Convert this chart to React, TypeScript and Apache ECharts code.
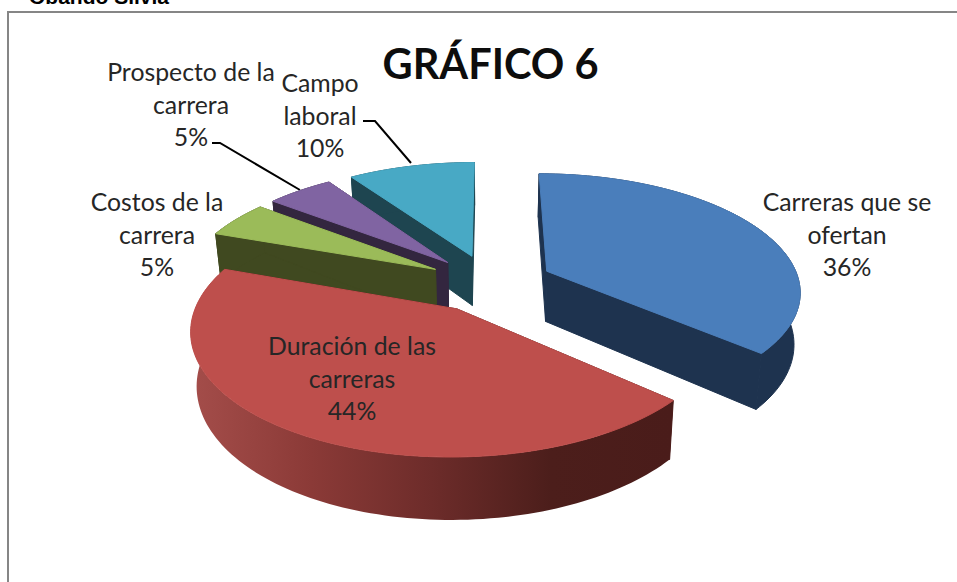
import React, { useEffect, useRef } from "react";
import * as echarts from "echarts";

const categories = ["Carreras que se ofertan", "Duración de las carreras", "Costos de la carrera", "Prospecto de la carrera", "Campo laboral"];
const values = [36.45, 44, 5, 5, 9.55];
const topColors = ["#4a7ebb", "#be4f4c", "#9bbb59", "#8064a2", "#48a9c5"];
const sideColors = ["#1e334f", "#4c1d1b", "#404920", "#33263f", "#1e4550"];
const labelLines = [
  ["Carreras que se", "ofertan"],
  ["Duración de las", "carreras"],
  ["Costos de la", "carrera"],
  ["Prospecto de la", "carrera"],
  ["Campo", "laboral"],
];
const titleText = "GRÁFICO 6";
const headerText = "Obando Silvia";

const CX = 490, CY = 283, F = 253, Q = 116, P = 0.156, EXPLODE = 0.25, DEPTH = 51, SHRINK = 0.98;
const drawRank = [4, 5, 3, 2, 1];
const labelCenter = [[847, 234], [352, 378], [157, 234], [191, 104], [320, 115]];
const leaders = [null, null, null, [[212, 143], [220, 143], [300, 190]], [[363, 121], [375, 121], [411, 163]]];

function project(X: number, Y: number, low: boolean) {
  const s = 1 / (1 - P * Y);
  const x = F * X * s * (low ? SHRINK : 1);
  const y = Q * Y * s + (low ? DEPTH * s : 0);
  return [CX + x, CY + y];
}

function renderItem(params: any, api: any) {
  const i = params.dataIndex;
  const total = values.reduce((a, b) => a + b, 0);
  const before = values.slice(0, i).reduce((a, b) => a + b, 0);
  const a0 = (before / total) * 2 * Math.PI;
  const a1 = ((before + api.value(0)) / total) * 2 * Math.PI;
  const mid = (a0 + a1) / 2;
  const ox = EXPLODE * Math.sin(mid), oy = -EXPLODE * Math.cos(mid);
  const n = Math.max(8, Math.round((a1 - a0) * 40));
  const arcTop: number[][] = [], arcLow: number[][] = [];
  for (let k = 0; k <= n; k++) {
    const a = a0 + ((a1 - a0) * k) / n;
    const X = ox + Math.sin(a), Y = oy - Math.cos(a);
    arcTop.push(project(X, Y, false));
    arcLow.push(project(X, Y, true));
  }
  const apexTop = project(ox, oy, false), apexLow = project(ox, oy, true);
  const rank = drawRank[i] * 10;
  const rimFill: any = i === 1
    ? new echarts.graphic.LinearGradient(192, 0, 670, 0, [
        { offset: 0, color: "#a44d4a" },
        { offset: 0.25, color: "#8b3a37" },
        { offset: 0.5, color: "#6d2c2a" },
        { offset: 0.75, color: "#4c1e1b" },
        { offset: 1, color: "#4a1c1a" },
      ], true)
    : sideColors[i];
  const side = sideColors[i];
  const poly = (points: number[][], fill: any, z: number, stroke: any) => ({
    type: "polygon",
    z2: z,
    shape: { points },
    style: { fill, stroke, lineWidth: stroke ? 1 : 0 },
    silent: true,
  });
  const children: any[] = [
    poly([apexTop, arcTop[0], arcLow[0], apexLow], side, rank, side),
    poly([apexTop, arcTop[n], arcLow[n], apexLow], side, rank + 1, side),
    poly([...arcTop, ...arcLow.slice().reverse()], rimFill, rank + 2, i === 1 ? null : side),
    poly([apexTop, ...arcTop], topColors[i], rank + 3, topColors[i]),
  ];
  const lines = [...labelLines[i], `${Math.round(api.value(0))}%`];
  children.push({
    type: "text",
    z2: 100,
    silent: true,
    style: {
      x: labelCenter[i][0],
      y: labelCenter[i][1],
      text: lines.join("\n"),
      align: "center",
      verticalAlign: "middle",
      font: "24.8px Lato",
      lineHeight: 32.5,
      fill: "#262626",
    },
  });
  const leader = leaders[i];
  if (leader) {
    children.push({
      type: "polyline",
      z2: 2,
      silent: true,
      shape: { points: leader },
      style: { stroke: "#000000", lineWidth: 2, fill: null },
    });
  }
  return { type: "group", children };
}

export default function App() {
  const ref = useRef<HTMLDivElement>(null);
  useEffect(() => {
    document.body.style.margin = "0";
    const chart = echarts.init(ref.current!, undefined, { renderer: "svg" });
    chart.setOption({
      animation: false,
      backgroundColor: "#ffffff",
      graphic: [
        { type: "rect", z: 0, shape: { x: 8, y: 12, width: 1000, height: 700 }, style: { fill: "#ffffff", stroke: "#868686", lineWidth: 2 }, silent: true },
        { type: "text", z: 1, style: { x: 29, y: -14, text: headerText, font: "bold 21px 'Liberation Sans'", fill: "#000000" }, silent: true },
        { type: "text", z: 1, style: { x: 490.5, y: 62.5, text: titleText, align: "center", verticalAlign: "middle", font: "bold 41.5px Lato", fill: "#0d0d0d" }, silent: true },
      ],
      series: [
        {
          type: "custom",
          coordinateSystem: "none",
          renderItem,
          data: values.map((v, i) => ({ name: categories[i], value: [v] })),
          silent: true,
        },
      ],
    });
    return () => chart.dispose();
  }, []);
  return <div ref={ref} style={{ position: "fixed", left: 0, top: 0, width: 957, height: 582 }} />;
}
